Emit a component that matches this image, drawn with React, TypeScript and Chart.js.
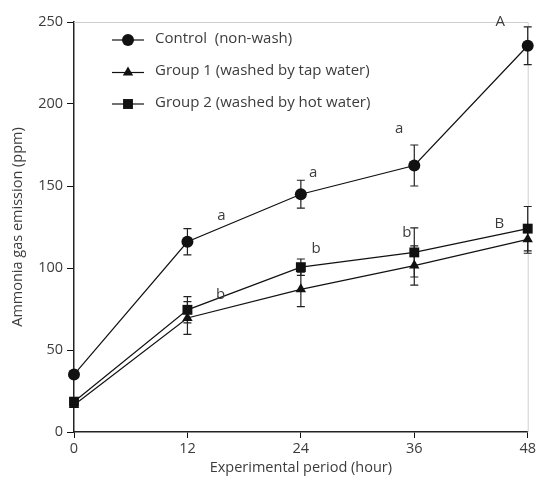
import React, { useEffect, useRef } from 'react';
import { Chart, registerables } from 'chart.js';

Chart.register(...registerables);

const hours = [0, 12, 24, 36, 48];
const controlValues = [35, 116, 145, 162.5, 235.5];
const controlErrors = [1.5, 8, 8.5, 12.5, 11.5];
const group1Values = [16.5, 69.5, 87, 101.5, 117.5];
const group1Errors = [1.5, 10, 10.5, 12, 8.5];
const group2Values = [18.5, 74.5, 100.5, 109.5, 124];
const group2Errors = [1.5, 8, 5, 15, 13.5];

const seriesNames = ['Control  (non-wash)', 'Group 1 (washed by tap water)', 'Group 2 (washed by hot water)'];
const seriesMarkers = ['circle', 'triangle', 'rect'];

const letterX = [15.6, 15.5, 25.3, 25.6, 34.4, 35.2, 45.1, 45.0];
const letterY = [132, 84, 158, 111.5, 185, 121.5, 250, 127];
const letterText = ['a', 'b', 'a', 'b', 'a', 'b', 'A', 'B'];

const yTicks = [0, 50, 100, 150, 200, 250];
const xTicks = [0, 12, 24, 36, 48];

const FONT = '"Open Sans", "Noto Sans", sans-serif';
const TEXT = '#3c3c3c';
const INK = '#111';

const markerRadius: Record<string, number> = { circle: 6, triangle: 6, rect: 7 };

function drawMarker(ctx: CanvasRenderingContext2D, style: string, x: number, y: number) {
  ctx.beginPath();
  const r = markerRadius[style];
  if (style === 'circle') {
    ctx.arc(x, y, r, 0, Math.PI * 2);
  } else if (style === 'rect') {
    const s = r * Math.SQRT1_2;
    ctx.rect(x - s, y - s, s * 2, s * 2);
  } else {
    ctx.moveTo(x, y - r);
    ctx.lineTo(x + r * 0.866, y + r / 2);
    ctx.lineTo(x - r * 0.866, y + r / 2);
    ctx.closePath();
  }
  ctx.fill();
}

const framePlugin = {
  id: 'frame',
  beforeDatasetsDraw(chart: any) {
    const { ctx, chartArea: a } = chart;
    ctx.save();
    ctx.strokeStyle = '#cfcfcf';
    ctx.lineWidth = 1;
    ctx.beginPath();
    ctx.moveTo(a.left, a.top + 0.5);
    ctx.lineTo(a.right + 0.5, a.top + 0.5);
    ctx.lineTo(a.right + 0.5, a.bottom);
    ctx.stroke();
    ctx.restore();
  },
};

const errorBarPlugin = {
  id: 'errorBars',
  beforeDatasetsDraw(chart: any) {
    const { ctx, scales } = chart;
    const x = scales.x;
    const y = scales.y;
    ctx.save();
    ctx.strokeStyle = '#222';
    ctx.lineWidth = 1.2;
    chart.data.datasets.forEach((ds: any) => {
      ds.data.forEach((p: any, j: number) => {
        const e = ds.errors[j];
        const px = x.getPixelForValue(p.x);
        const top = y.getPixelForValue(p.y + e);
        const bot = y.getPixelForValue(p.y - e);
        ctx.beginPath();
        ctx.moveTo(px, top);
        ctx.lineTo(px, bot);
        ctx.moveTo(px - 4, top);
        ctx.lineTo(px + 4, top);
        ctx.moveTo(px - 4, bot);
        ctx.lineTo(px + 4, bot);
        ctx.stroke();
      });
    });
    ctx.restore();
  },
};

const lettersPlugin = {
  id: 'letters',
  afterDatasetsDraw(chart: any) {
    const { ctx, scales } = chart;
    ctx.save();
    ctx.fillStyle = TEXT;
    ctx.font = `15px ${FONT}`;
    ctx.textAlign = 'center';
    ctx.textBaseline = 'middle';
    letterText.forEach((t, i) => {
      ctx.fillText(t, scales.x.getPixelForValue(letterX[i]), scales.y.getPixelForValue(letterY[i]));
    });
    ctx.restore();
  },
};

const legendPlugin = {
  id: 'customLegend',
  afterDraw(chart: any) {
    const { ctx, chartArea: a } = chart;
    ctx.save();
    const rows = [40, 72.5, 104];
    seriesNames.forEach((name, i) => {
      const yy = rows[i];
      const x0 = a.left + 38;
      ctx.strokeStyle = INK;
      ctx.lineWidth = 1.2;
      ctx.beginPath();
      ctx.moveTo(x0, yy);
      ctx.lineTo(x0 + 32, yy);
      ctx.stroke();
      ctx.fillStyle = INK;
      drawMarker(ctx, seriesMarkers[i], x0 + 16, yy);
      ctx.fillStyle = TEXT;
      ctx.font = `15px ${FONT}`;
      ctx.textAlign = 'left';
      ctx.textBaseline = 'middle';
      ctx.fillText(name, x0 + 43, yy - 1.5);
    });
    ctx.restore();
  },
};

export default function App() {
  const ref = useRef<HTMLCanvasElement>(null);
  useEffect(() => {
    if (!ref.current) return;
    const mk = (vals: number[], errs: number[], style: string, label: string) => ({
      label,
      data: hours.map((h, i) => ({ x: h, y: vals[i] })),
      errors: errs,
      borderColor: INK,
      backgroundColor: INK,
      borderWidth: 1.2,
      pointStyle: style,
      pointRadius: markerRadius[style],
      pointBorderWidth: 0,
      pointBackgroundColor: INK,
      tension: 0,
      fill: false,
      clip: false,
    });
    const chart = new Chart(ref.current, {
      type: 'line',
      data: {
        datasets: [
          mk(group1Values, group1Errors, 'triangle', seriesNames[1]),
          mk(group2Values, group2Errors, 'rect', seriesNames[2]),
          mk(controlValues, controlErrors, 'circle', seriesNames[0]),
        ] as any,
      },
      options: {
        animation: false,
        responsive: false,
        maintainAspectRatio: false,
        layout: { padding: { top: 22, right: 10, left: 0, bottom: 0 } },
        plugins: { legend: { display: false }, tooltip: { enabled: false } },
        scales: {
          x: {
            type: 'linear',
            min: 0,
            max: 48,
            afterBuildTicks: (s: any) => { s.ticks = xTicks.map((v) => ({ value: v })); },
            afterFit: (s: any) => { s.height = 49; },
            grid: { drawOnChartArea: false, tickLength: 6, color: INK, tickWidth: 1 },
            border: { color: '#222', width: 1.5 },
            ticks: { color: TEXT, font: { family: FONT, size: 14.5 }, padding: 2, maxRotation: 0 },
            title: { display: true, text: 'Experimental period (hour)', color: TEXT, font: { family: FONT, size: 14.5 }, padding: { top: 0, bottom: 4 } },
          },
          y: {
            type: 'linear',
            min: 0,
            max: 250,
            afterBuildTicks: (s: any) => { s.ticks = yTicks.map((v) => ({ value: v })); },
            afterFit: (s: any) => { s.width = 74; },
            grid: { drawOnChartArea: false, tickLength: 7, color: INK, tickWidth: 1 },
            border: { color: '#222', width: 1.5 },
            ticks: { color: TEXT, font: { family: FONT, size: 14.5 }, padding: 4 },
            title: { display: true, text: 'Ammonia gas emission (ppm)', color: TEXT, font: { family: FONT, size: 14.5 }, padding: { top: 9, bottom: 0 } },
          },
        },
      },
      plugins: [framePlugin, errorBarPlugin, lettersPlugin, legendPlugin],
    } as any);
    return () => chart.destroy();
  }, []);
  return (
    <div style={{ position: 'absolute', left: 0, top: 0, width: 538, height: 481, background: '#fff' }}>
      <canvas ref={ref} width={538} height={481} style={{ width: 538, height: 481, display: 'block' }} />
    </div>
  );
}
